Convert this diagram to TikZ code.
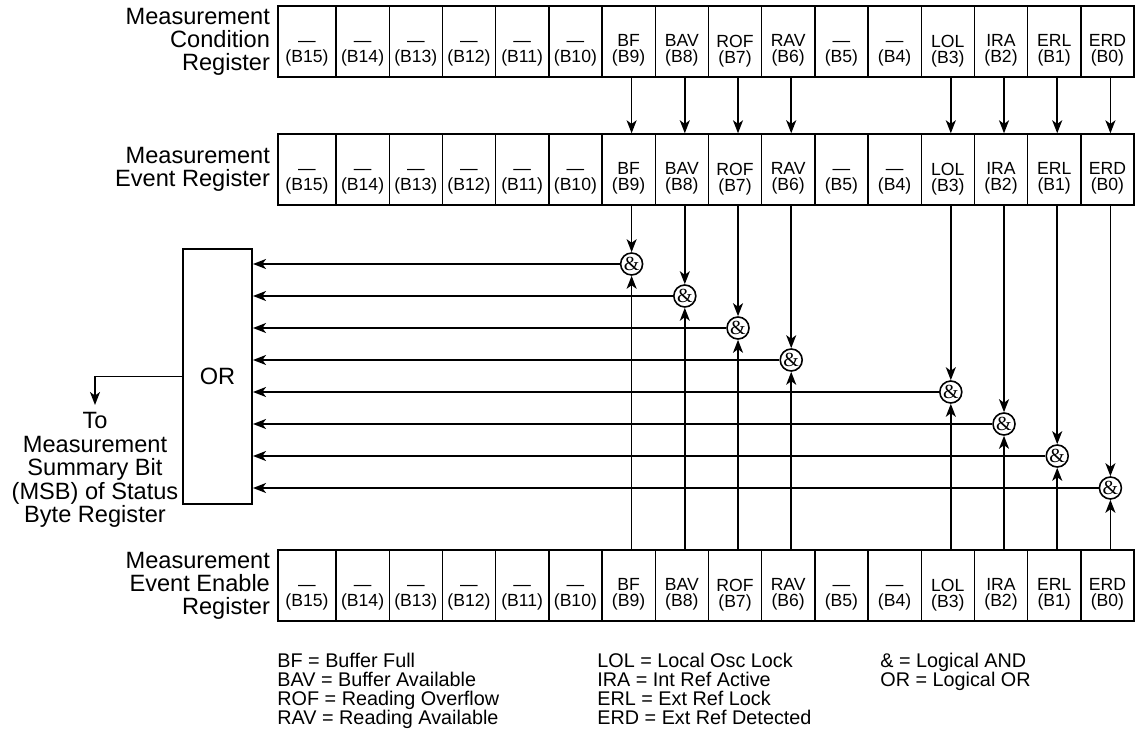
\documentclass[tikz,border=0pt]{standalone}
\usepackage{fontspec}
\setmainfont{Liberation Sans}
\newfontfamily\ampfont{Liberation Serif}
\usepackage{tikz}
\usetikzlibrary{arrows.meta,positioning}

\begin{document}
\begin{tikzpicture}[x=0.5pt,y=-0.5pt,
    cell/.style={draw,line width=0.7pt,minimum height=35.5pt,inner sep=0pt},
    bits/.style={font=\fontsize{8.8}{8}\selectfont,align=center,anchor=north,inner sep=0pt},
    reglabel/.style={font=\fontsize{11.8}{11.5}\selectfont,align=right,inner sep=0pt},
    andgate/.style={draw,circle,line width=0.8pt,minimum size=11pt,inner sep=0pt,font=\ampfont\fontsize{10}{12}\selectfont},
    sig/.style={line width=0.85pt,-{Stealth[length=6.5pt,width=5pt,inset=1.8pt]}},
    legend/.style={font=\fontsize{9.9}{9.5}\selectfont,align=left,anchor=north west,inner sep=0pt}]
  \useasboundingbox (0,0) rectangle (1143,747);

  % the three registers
  \foreach \reg/\ty in {cond/6,ev/134,en/550}{
    \foreach \nm [count=\i from 0] in {—,—,—,—,—,—,BF,BAV,ROF,RAV,—,—,LOL,IRA,ERL,ERD}{
      \pgfmathsetmacro\b{int(15-\i)}
      \pgfmathsetmacro\cw{\i==0 ? 58 : 53.2}
      \pgfmathsetmacro\cx{\i==0 ? 307 : 309.4+53.2*\i}
      \node[cell,minimum width=\cw*0.5pt] (\reg\b) at (\cx,\ty+35.5) {};
      \node[bits] at (\cx,\ty+28.4) {\vphantom{B}\nm\\(B\b)};
    }
    \draw[line width=1.1pt] (278,\ty) rectangle (1134,\ty+71);
  }
  \node[reglabel,left=3.5pt of cond15] (lblcond) {Measurement\\Condition\\Register};
  \node[reglabel,left=3.5pt of ev15] (lblev) {Measurement\\Event Register};
  \node[reglabel,left=3.5pt of en15] (lblen) {Measurement\\Event Enable\\Register};

  % OR and output
  \node[draw,line width=1pt,minimum width=34.5pt,minimum height=127.5pt,
        font=\fontsize{11.8}{14}\selectfont] (orgate) at (217.5,376.5) {OR};
  \node[font=\fontsize{11.8}{11.75}\selectfont,align=center,anchor=north,
        inner xsep=0pt,inner ysep=3.5pt] (dest) at (95,405)
       {To\\Measurement\\Summary Bit\\(MSB) of Status\\Byte Register};
  \draw[sig] (orgate.west) -| (dest.north);

  % AND gates
  \foreach \b/\i [count=\k from 0] in {9/6,8/7,7/8,6/9,3/12,2/13,1/14,0/15}{
    \pgfmathsetmacro\gx{309.4+53.2*\i+3}
    \node[andgate] (g\b) at (\gx,264+32*\k) {\&};
    \draw[sig] (cond\b.south -| g\b) -- (ev\b.north -| g\b);
    \draw[sig] (ev\b.south -| g\b) -- (g\b.north);
    \draw[sig] (en\b.north -| g\b) -- (g\b.south);
    \draw[sig] (g\b.west) -- (g\b.west -| orgate.east);
  }

  % legend
  \node[legend] (leg1) at (277,653) {BF = Buffer Full\\BAV = Buffer Available\\ROF = Reading Overflow\\RAV = Reading Available};
  \node[legend] (leg2) at (597,653) {LOL = Local Osc Lock\\IRA = Int Ref Active\\ERL = Ext Ref Lock\\ERD = Ext Ref Detected};
  \node[legend] (leg3) at (880,653) {\& = Logical AND\\OR = Logical OR};
\end{tikzpicture}
\end{document}
